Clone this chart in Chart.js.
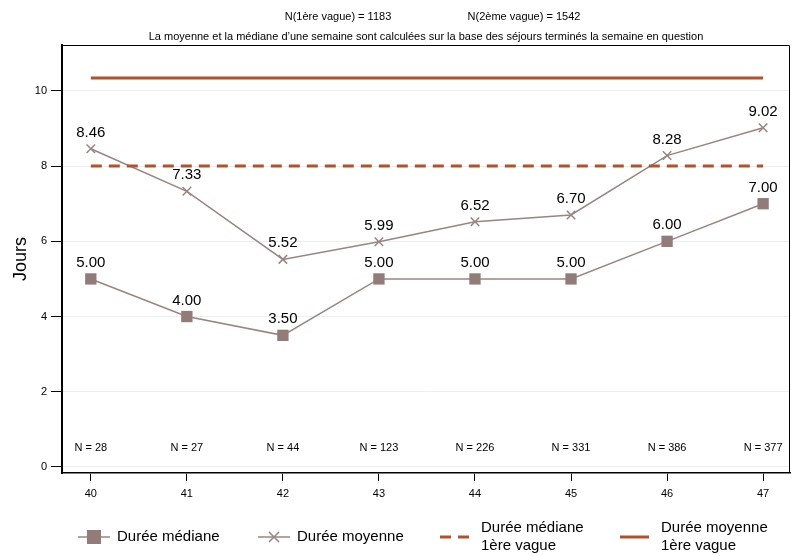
<!DOCTYPE html>
<html>
<head>
<meta charset="utf-8">
<script src="https://cdn.jsdelivr.net/npm/chart.js@4"></script>
<style>
  html, body { margin: 0; padding: 0; background: #fff; }
  #wrap { width: 792px; height: 556px; }
</style>
</head>
<body>
<div id="wrap"><canvas id="chart" width="792" height="556"></canvas></div>
<script>
const weeks = [40, 41, 42, 43, 44, 45, 46, 47];
const mediane = [5.00, 4.00, 3.50, 5.00, 5.00, 5.00, 6.00, 7.00];
const moyenne = [8.46, 7.33, 5.52, 5.99, 6.52, 6.70, 8.28, 9.02];
const nParSemaine = [28, 27, 44, 123, 226, 331, 386, 377];
const medianeVague1 = 8.0;
const moyenneVague1 = 10.34;
const yTicks = [0, 2, 4, 6, 8, 10];

const serieColor = '#9a8482';
const markerColor = '#927b78';
const vagueColor = '#b0532b';
const font = '"Liberation Sans", Arial, sans-serif';

const pts = arr => weeks.map((w, i) => ({ x: w, y: arr[i] }));
const flat = v => [{ x: weeks[0], y: v }, { x: weeks[weeks.length - 1], y: v }];

const extras = {
  id: 'extras',
  afterDraw(chart) {
    const c = chart.ctx, a = chart.chartArea;
    const xs = chart.scales.x, ys = chart.scales.y;
    c.save();
    // frame top/right
    c.strokeStyle = '#000';
    c.lineWidth = 1;
    c.beginPath();
    c.moveTo(a.left, a.top + 0.5);
    c.lineTo(a.right - 0.5, a.top + 0.5);
    c.lineTo(a.right - 0.5, a.bottom);
    c.stroke();
    // titles
    c.fillStyle = '#000';
    c.font = '11px ' + font;
    c.textAlign = 'center';
    c.textBaseline = 'middle';
    c.fillText('N(1ère vague) = 1183', 338, 17);
    c.fillText('N(2ème vague) = 1542', 524, 17);
    c.fillText('La moyenne et la médiane d\u2019une semaine sont calculées sur la base des séjours terminés la semaine en question', 426, 37);
    // N labels
    weeks.forEach((w, i) => {
      c.fillText('N = ' + nParSemaine[i], xs.getPixelForValue(w), ys.getPixelForValue(0.5));
    });
    // data labels
    c.font = '15px ' + font;
    c.textBaseline = 'alphabetic';
    [mediane, moyenne].forEach(arr => {
      weeks.forEach((w, i) => {
        c.fillText(arr[i].toFixed(2), xs.getPixelForValue(w), ys.getPixelForValue(arr[i]) - 12);
      });
    });
    // legend
    const ly = 537;
    c.lineWidth = 1.5;
    c.strokeStyle = serieColor;
    c.beginPath(); c.moveTo(78, ly); c.lineTo(110, ly); c.stroke();
    c.fillStyle = markerColor;
    c.fillRect(87, ly - 7, 14, 14);
    c.beginPath(); c.moveTo(258, ly); c.lineTo(290, ly); c.stroke();
    c.beginPath();
    c.moveTo(269, ly - 5); c.lineTo(279, ly + 5);
    c.moveTo(279, ly - 5); c.lineTo(269, ly + 5);
    c.stroke();
    c.strokeStyle = vagueColor;
    c.lineWidth = 3;
    c.beginPath(); c.moveTo(440, ly); c.lineTo(451, ly); c.moveTo(458, ly); c.lineTo(469, ly); c.stroke();
    c.beginPath(); c.moveTo(620, ly); c.lineTo(649, ly); c.stroke();
    c.fillStyle = '#000';
    c.font = '15px ' + font;
    c.textAlign = 'left';
    c.textBaseline = 'middle';
    c.fillText('Durée médiane', 117, ly);
    c.fillText('Durée moyenne', 297, ly);
    c.fillText('Durée médiane', 481, ly - 9);
    c.fillText('1ère vague', 481, ly + 9);
    c.fillText('Durée moyenne', 661, ly - 9);
    c.fillText('1ère vague', 661, ly + 9);
    c.restore();
  }
};

new Chart(document.getElementById('chart'), {
  type: 'line',
  data: {
    datasets: [
      {
        label: 'Durée moyenne 1ère vague',
        data: flat(moyenneVague1),
        borderColor: vagueColor,
        borderWidth: 3,
        pointRadius: 0
      },
      {
        label: 'Durée médiane 1ère vague',
        data: flat(medianeVague1),
        borderColor: vagueColor,
        borderWidth: 3,
        borderDash: [11, 7],
        pointRadius: 0
      },
      {
        label: 'Durée moyenne',
        data: pts(moyenne),
        borderColor: serieColor,
        borderWidth: 1.5,
        pointStyle: 'crossRot',
        pointRadius: 6,
        pointBorderWidth: 1.5,
        pointBorderColor: serieColor
      },
      {
        label: 'Durée médiane',
        data: pts(mediane),
        borderColor: serieColor,
        borderWidth: 1.5,
        pointStyle: 'rect',
        pointRadius: 8,
        pointBackgroundColor: markerColor,
        pointBorderColor: markerColor,
        pointBorderWidth: 0
      }
    ]
  },
  options: {
    responsive: false,
    animation: false,
    layout: { autoPadding: false, padding: { top: 45, right: 2, bottom: 0, left: 10 } },
    plugins: { legend: { display: false }, tooltip: { enabled: false } },
    scales: {
      x: {
        type: 'linear',
        min: 39.7,
        max: 47.28,
        afterBuildTicks: s => { s.ticks = weeks.map(v => ({ value: v })); },
        afterFit: s => { s.height = 83; s.paddingLeft = 0; s.paddingRight = 0; },
        grid: { display: true, drawOnChartArea: false, tickLength: 8, color: '#000', tickWidth: 1 },
        border: { color: '#000', width: 1.5 },
        ticks: { color: '#000', font: { family: font, size: 11 }, padding: 6, callback: v => v }
      },
      y: {
        min: -0.16,
        max: 11.22,
        afterBuildTicks: s => { s.ticks = yTicks.map(v => ({ value: v })); },
        afterFit: s => { s.width = 52; },
        grid: { color: '#eeeeee', lineWidth: 1, tickLength: 11, tickColor: '#000' },
        border: { color: '#000', width: 2 },
        title: { display: true, text: 'Jours', color: '#000', font: { family: font, size: 18 }, padding: 0 },
        ticks: { color: '#000', font: { family: font, size: 11 }, padding: 4 }
      }
    }
  },
  plugins: [extras]
});
</script>
</body>
</html>
